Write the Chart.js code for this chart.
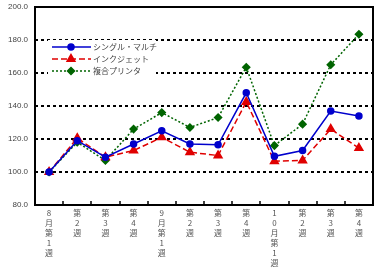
<!DOCTYPE html>
<html lang="ja">
<head>
    <meta charset="UTF-8">
    <title>Chart</title>
    <script src="https://cdn.jsdelivr.net/npm/chart.js"></script>
    <style>
        body { margin: 0; background: #fff; }
        #wrap { width: 390px; height: 273px; }
    </style>
</head>
<body>
    <div id="wrap"><canvas id="chart" width="390" height="273"></canvas></div>
    <script>
        const categories = ['8月第1週', '第2週', '第3週', '第4週', '9月第1週', '第2週', '第3週', '第4週', '10月第1週', '第2週', '第3週', '第4週'];
        const seriesNames = ['シングル・マルチ', 'インクジェット', '複合プリンタ'];
        const singleMulti = [100, 119, 109, 117, 125, 117, 116.5, 148, 109.5, 113, 137, 134];
        const inkjet = [100, 120.5, 109, 113, 121, 112, 110, 142.5, 106.5, 107, 126, 114.5];
        const multifunction = [100, 118, 107, 126, 136, 127, 133, 163.5, 116, 129, 165, 183.5];
        const yTicks = [80, 100, 120, 140, 160, 180, 200];

        const FONT = '"Noto Sans CJK JP", "DejaVu Sans", sans-serif';

        // dotted gridlines under the data
        const gridPlugin = {
            id: 'dotgrid',
            beforeDatasetsDraw(chart) {
                const ctx = chart.ctx;
                const a = chart.chartArea;
                const ys = chart.scales.y;
                ctx.save();
                ctx.strokeStyle = '#000';
                ctx.lineWidth = 2;
                ctx.setLineDash([3, 3]);
                yTicks.forEach(v => {
                    if (v === ys.min || v === ys.max) return;
                    const y = Math.round(ys.getPixelForValue(v));
                    ctx.beginPath();
                    ctx.moveTo(a.left, y);
                    ctx.lineTo(a.right, y);
                    ctx.stroke();
                });
                ctx.restore();
            }
        };

        // frame, small x ticks and the in-plot legend
        const framePlugin = {
            id: 'frame',
            afterDraw(chart) {
                const ctx = chart.ctx;
                const a = chart.chartArea;
                const xs = chart.scales.x;
                ctx.save();
                ctx.strokeStyle = '#000';
                ctx.lineWidth = 2;
                ctx.setLineDash([]);
                ctx.strokeRect(a.left, a.top, a.right - a.left, a.bottom - a.top);
                // category boundary ticks
                const step = xs.getPixelForValue(1) - xs.getPixelForValue(0);
                ctx.lineWidth = 1.5;
                for (let i = 1; i < categories.length; i++) {
                    const x = Math.round(xs.getPixelForValue(i) - step / 2);
                    ctx.beginPath();
                    ctx.moveTo(x, a.bottom);
                    ctx.lineTo(x, a.bottom - 4);
                    ctx.stroke();
                }
                // legend
                ctx.fillStyle = '#fff';
                ctx.fillRect(48, 40, 108, 38);
                chart.data.datasets.forEach((ds, i) => {
                    const y = 47 + i * 12;
                    ctx.strokeStyle = ds.borderColor;
                    ctx.lineWidth = ds.borderWidth;
                    ctx.setLineDash(ds.borderDash || []);
                    ctx.beginPath();
                    ctx.moveTo(52, y);
                    ctx.lineTo(91, y);
                    ctx.stroke();
                    ctx.setLineDash([]);
                    ctx.fillStyle = ds.borderColor;
                    Chart.helpers.drawPoint(ctx, {
                        pointStyle: ds.pointStyle,
                        radius: ds.pointRadius,
                        rotation: 0,
                        borderWidth: 1
                    }, 71, y);
                    ctx.fillStyle = '#444';
                    ctx.font = '8px ' + FONT;
                    ctx.textBaseline = 'middle';
                    ctx.fillText(ds.label, 93, y);
                });
                ctx.restore();
            }
        };

        new Chart(document.getElementById('chart'), {
            type: 'line',
            data: {
                labels: categories.map(s => s.split('')),
                datasets: [
                    {
                        label: seriesNames[0], data: singleMulti,
                        borderColor: '#0000cc', backgroundColor: '#0000cc',
                        borderWidth: 1.5, pointStyle: 'circle', pointRadius: 3
                    },
                    {
                        label: seriesNames[1], data: inkjet,
                        borderColor: '#e00000', backgroundColor: '#e00000',
                        borderWidth: 1.5, borderDash: [6, 3], pointStyle: 'triangle', pointRadius: 4.5
                    },
                    {
                        label: seriesNames[2], data: multifunction,
                        borderColor: '#006400', backgroundColor: '#006400',
                        borderWidth: 1.5, borderDash: [2, 2], pointStyle: 'rectRot', pointRadius: 3.5
                    }
                ]
            },
            options: {
                responsive: false,
                animation: false,
                layout: { padding: { left: 0, right: 17, top: 7, bottom: 0 } },
                elements: {
                    line: { tension: 0, fill: false },
                    point: { borderWidth: 1 }
                },
                plugins: {
                    legend: { display: false },
                    tooltip: { enabled: false }
                },
                scales: {
                    x: {
                        offset: true,
                        grid: { display: false, drawTicks: false },
                        border: { display: false },
                        ticks: {
                            maxRotation: 0, autoSkip: false, padding: 3,
                            color: '#555', font: { family: FONT, size: 8, lineHeight: 1.25 }
                        },
                        afterFit(scale) { scale.height = 68; scale.paddingTop = 0; scale.paddingBottom = 0; }
                    },
                    y: {
                        min: 80, max: 200,
                        afterBuildTicks(scale) { scale.ticks = yTicks.map(v => ({ value: v })); },
                        grid: { display: false, drawTicks: false },
                        border: { display: false },
                        ticks: {
                            padding: 7,
                            color: '#444',
                            font: { family: '"Liberation Sans", Arial, sans-serif', size: 8 },
                            callback: v => v.toFixed(1)
                        },
                        afterFit(scale) { scale.width = 35; scale.paddingTop = 0; scale.paddingBottom = 0; }
                    }
                }
            },
            plugins: [gridPlugin, framePlugin]
        });
    </script>
</body>
</html>
